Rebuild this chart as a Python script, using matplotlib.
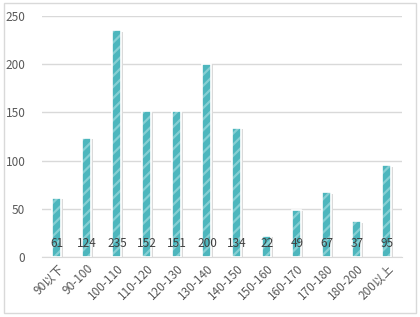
import matplotlib
matplotlib.use("Agg")
import matplotlib.pyplot as plt
import matplotlib.transforms as mtransforms
from matplotlib.patches import Rectangle

plt.rcParams['font.family'] = ['Noto Sans CJK SC', 'DejaVu Sans']
plt.rcParams['hatch.linewidth'] = 1.6

# Data
categories = ["90以下", "90-100", "100-110", "110-120", "120-130", "130-140",
              "140-150", "150-160", "160-170", "170-180", "180-200", "200以上"]
counts = [61, 124, 235, 152, 151, 200, 134, 22, 49, 67, 37, 95]
y_ticks = [0, 50, 100, 150, 200, 250]

BAR_COLOR = "#4DB6BD"
STRIPE_COLOR = "#86CFD3"
TEXT_COLOR = "#595959"
GRID_COLOR = "#D9D9D9"

fig = plt.figure(figsize=(4.2, 3.17), dpi=100)
fig.patches.append(Rectangle((4 / 420, 4 / 317), 412 / 420, 310 / 317,
                             transform=fig.transFigure, fill=False,
                             edgecolor=GRID_COLOR, linewidth=1))
ax = fig.add_axes([0.1, 0.189, 0.857, 0.7605])

x = range(len(categories))
bar_w = 0.3

# soft shadow behind the bars
shadow = mtransforms.offset_copy(ax.transData, fig=fig, x=0.8, y=-0.8, units="points")
ax.bar(x, counts, width=bar_w, color="#DADADA", linewidth=0, zorder=2,
       transform=shadow)
ax.bar(x, counts, width=bar_w, color=BAR_COLOR, edgecolor=STRIPE_COLOR,
       hatch="///", linewidth=0, zorder=3)
ax.bar(x, counts, width=bar_w, fill=False, edgecolor="white", linewidth=1.2,
       zorder=4)

for i, v in enumerate(counts):
    ax.text(i, 14, str(v), ha="center", va="center", fontsize=8.5,
            color="#404040", zorder=5)

ax.set_xlim(-0.5, len(categories) - 0.5)
ax.set_ylim(0, 250)
ax.set_yticks(y_ticks)
ax.yaxis.grid(True, color=GRID_COLOR, linewidth=1, zorder=0)
ax.set_axisbelow(True)
for side in ["top", "right", "left"]:
    ax.spines[side].set_visible(False)
ax.spines["bottom"].set_color(GRID_COLOR)
ax.tick_params(axis="both", length=0, labelsize=8.5, colors=TEXT_COLOR)
ax.tick_params(axis="y", pad=12)
ax.set_xticks(list(x))
ax.set_xticklabels(categories, rotation=45, ha="right", rotation_mode="anchor")

fig.savefig("out.png", dpi=100)
